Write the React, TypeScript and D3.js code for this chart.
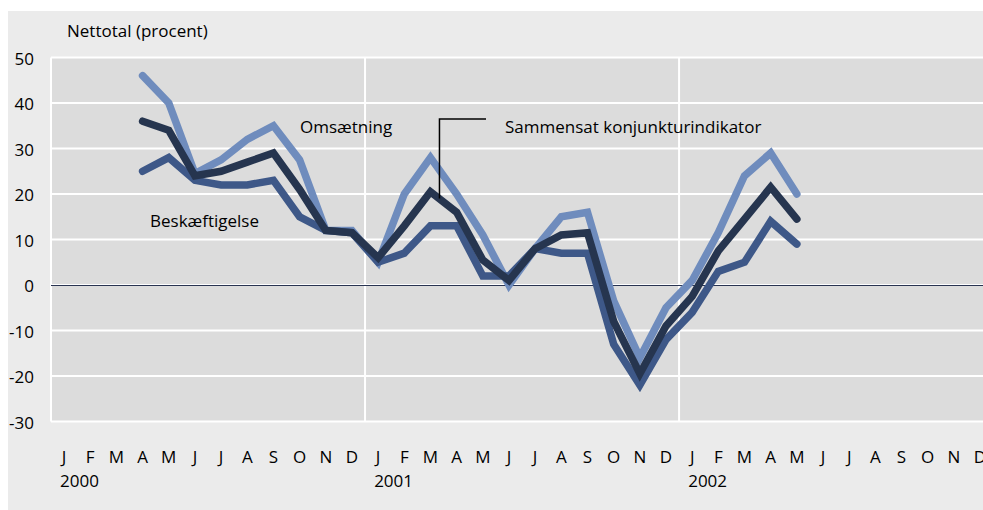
import * as d3 from "d3";

// months Jan 2000 .. Dec 2002
const monthLetters = ["J", "F", "M", "A", "M", "J", "J", "A", "S", "O", "N", "D"];
const years = ["2000", "2001", "2002"];
const yTicks = [50, 40, 30, 20, 10, 0, -10, -20, -30];

// series run from April 2000 (month index 3) to May 2002
const startIndex = 3;
const omsaetning = [46, 40, 24.5, 27.5, 32, 35, 27.5, 12, 12, 5, 20, 28, 20, 11, 0, 8, 15, 16, -3.5, -16, -5, 1, 11.5, 24, 29, 20];
const beskaeftigelse = [25, 28, 23, 22, 22, 23, 15, 12, 11.5, 5, 7, 13, 13, 2, 2, 8, 7, 7, -13, -22, -12, -6, 3, 5, 14, 9];
const sammensat = [36, 34, 24, 25, 27, 29, 21, 12, 11.5, 6, 13, 20.5, 16, 5.5, 1, 8, 11, 11.5, -8, -19.5, -9, -2.5, 7.5, 14.5, 21.5, 14.5];

const font = "'Open Sans', sans-serif";

export default function App() {
  const W = 983, H = 510;
  const left = 51, top = 57.5, bottom = 421.5;
  const monthW = 26.17;

  const months = d3.range(36);
  const x = d3.scaleBand<number>()
    .domain(months)
    .range([left, left + 36 * monthW]);
  const y = d3.scaleLinear()
    .domain([-30, 50])
    .range([bottom, top]);

  const cx = (i: number) => (x(i) as number) + x.bandwidth() / 2;

  const line = d3.line<number>()
    .x((d, i) => cx(i + startIndex))
    .y(d => y(d));

  const series = [
    { name: "Omsætning", values: omsaetning, color: "#6f8cbd" },
    { name: "Beskæftigelse", values: beskaeftigelse, color: "#3e5888" },
    { name: "Sammensat konjunkturindikator", values: sammensat, color: "#26354f" },
  ];

  const plotRight = left + 36 * monthW;

  return (
    <div style={{ position: "absolute", left: 0, top: 0, width: W, height: H, overflow: "hidden", background: "#fff" }}>
      <svg width={W} height={H} style={{ display: "block", fontFamily: font }}>
        <rect x={8} y={11} width={W - 8} height={H - 11} fill="#ebebeb" />
        <rect x={left} y={top} width={plotRight - left} height={bottom - top} fill="#dcdcdc" />

        {/* white grid */}
        {yTicks.map(t => (
          <line key={t} x1={left} x2={plotRight} y1={y(t)} y2={y(t)} stroke="#fff" strokeWidth={2} />
        ))}
        {[0, 12, 24].map(m => (
          <line key={m} x1={x(m) as number} x2={x(m) as number} y1={top} y2={bottom} stroke="#fff" strokeWidth={2} />
        ))}
        <line x1={left} x2={plotRight} y1={y(0) + 0.5} y2={y(0) + 0.5} stroke="#2a3552" strokeWidth={1} />

        {/* y axis labels */}
        {yTicks.map(t => (
          <text key={t} x={34} y={y(t) + 7} textAnchor="end" fontSize={17} fill="#000">{t}</text>
        ))}
        <text x={67} y={37} fontSize={17} fill="#000">Nettotal (procent)</text>

        {/* month labels */}
        {months.map(m => (
          <text key={m} x={cx(m)} y={463} textAnchor="middle" fontSize={17} fill="#000">
            {monthLetters[m % 12]}
          </text>
        ))}
        {years.map((yr, i) => (
          <text key={yr} x={cx(i * 12) - 4} y={487} fontSize={17} fill="#000">{yr}</text>
        ))}

        {/* lines */}
        {series.map(s => (
          <path key={s.name} d={line(s.values) as string} fill="none" stroke={s.color}
            strokeWidth={7.5} strokeLinecap="round" strokeLinejoin="miter" />
        ))}

        {/* annotations */}
        <text x={300} y={133} fontSize={17} fill="#000">Omsætning</text>
        <text x={150} y={227} fontSize={17} fill="#000">Beskæftigelse</text>
        <text x={505} y={133} fontSize={17} fill="#000">Sammensat konjunkturindikator</text>
        <polyline points={`${cx(14) + 9},${y(19)} ${cx(14) + 9},119 486,119`} fill="none" stroke="#000" strokeWidth={1.5} />
      </svg>
    </div>
  );
}
